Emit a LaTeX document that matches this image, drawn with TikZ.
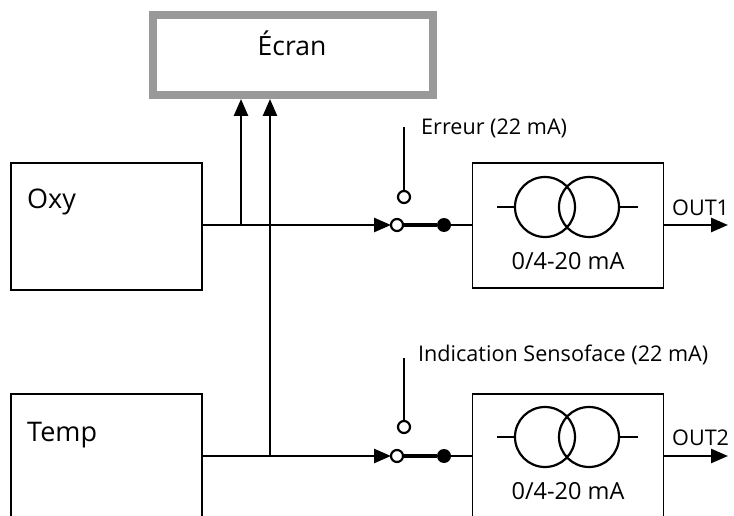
\documentclass[tikz,border=0pt]{standalone}
\usepackage{fontspec}
\setmainfont{Open Sans}
\usetikzlibrary{arrows.meta, positioning}

\begin{document}
\begin{tikzpicture}[
    x=1pt, y=-1pt,
    font=\fontsize{27}{30}\selectfont,
    node distance=104pt and 270pt,
    screen/.style={draw=black!40, line width=8pt, minimum width=280pt, minimum height=80pt, inner sep=0pt, outer sep=0pt},
    srcbox/.style={draw, line width=1.7pt, minimum width=191pt, minimum height=127pt, inner sep=0pt, outer sep=0pt},
    outbox/.style={draw, line width=1.7pt, minimum width=191pt, minimum height=125pt, inner sep=0pt, outer sep=0pt},
    wire/.style={line width=2.6pt},
    arrow/.style={line width=2.6pt, -{Triangle[length=17pt, width=14pt]}},
    contact/.style={circle, draw, line width=2.2pt, fill=white, minimum size=12pt, inner sep=0pt, outer sep=0pt},
    pivot/.style={circle, fill=black, minimum size=14pt, inner sep=0pt, outer sep=0pt},
    coil/.style={circle, draw, line width=2.2pt, minimum size=60pt, inner sep=0pt, outer sep=0pt},
    small/.style={font=\fontsize{21.6}{24}\selectfont, inner sep=0pt},
    rangetext/.style={font=\fontsize{23.5}{26}\selectfont, inner sep=0pt}
]
  \useasboundingbox (0,0) rectangle (734,516);
  \clip (0,0) rectangle (734,516);

  \node[screen] (ecran) at (293,55) {};
  \node[font=\fontsize{26.5}{30}\selectfont, inner sep=0pt] (ecrantext) at (292,43) {Écran};

  \node[srcbox] (oxy) at (106.5,226.5) {};
  \node[srcbox, below=of oxy] (temp) {};
  \node[anchor=west, inner sep=0pt] (oxytext) at (27,202) {Oxy};
  \node[anchor=west, inner sep=0pt] (temptext) at (27,435) {Temp};

  \node[outbox] (out1) at (568,225.5) {};
  \node[outbox, below=106pt of out1] (out2) {};
  \node[rangetext] (range1) at (568,261) {0/4-20 mA};
  \node[rangetext] (range2) at (568,491) {0/4-20 mA};

  % switches
  \node[contact] (in1) at (397,225) {};
  \node[contact] (alt1) at (404,197) {};
  \node[pivot] (piv1) at (444,225) {};
  \coordinate (lead1) at (404,127);
  \node[contact] (in2) at (397,456) {};
  \node[contact] (alt2) at (404,427) {};
  \node[pivot] (piv2) at (444,456) {};
  \coordinate (lead2) at (404,358);

  \node[small, anchor=west] (err) at (421,128) {Erreur (22 mA)};
  \node[small, anchor=west] (sens) at (418,355) {Indication Sensoface (22 mA)};

  % transformers
  \node[coil] (c1a) at (545,207) {};
  \node[coil] (c1b) at (589,207) {};
  \node[coil] (c2a) at (545,437) {};
  \node[coil] (c2b) at (589,437) {};
  \coordinate (s1a) at (497,207);
  \coordinate (s1b) at (638,207);
  \coordinate (s2a) at (497,437);
  \coordinate (s2b) at (638,437);
  \draw[wire] (s1a) -- (c1a.west);
  \draw[wire] (c1b.east) -- (s1b);
  \draw[wire] (s2a) -- (c2a.west);
  \draw[wire] (c2b.east) -- (s2b);

  % junctions
  \coordinate (j1) at (241,225);
  \coordinate (j2) at (270,456);
  \coordinate (t1) at (241,99);
  \coordinate (t2) at (270,99);
  \coordinate (o1) at (728,225);
  \coordinate (o2) at (728,456);

  \draw[arrow] (oxy.east |- in1) -- (in1.west);
  \draw[arrow] (temp.east |- in2) -- (in2.west);
  \draw[arrow] (j1) -- (t1);
  \draw[arrow] (j2) -- (t2);
  \draw[line width=4.5pt] (in1) -- (piv1);
  \draw[line width=4.5pt] (in2) -- (piv2);
  \draw[wire] (piv1) -- (out1.west |- piv1);
  \draw[wire] (piv2) -- (out2.west |- piv2);
  \draw[wire] (lead1) -- (alt1);
  \draw[wire] (lead2) -- (alt2);
  \draw[arrow] (out1.east |- o1) -- (o1);
  \draw[arrow] (out2.east |- o2) -- (o2);

  \node[small, anchor=base west] (lab1) at (672,215) {OUT1};
  \node[small, anchor=base west] (lab2) at (672,445) {OUT2};
\end{tikzpicture}
\end{document}
